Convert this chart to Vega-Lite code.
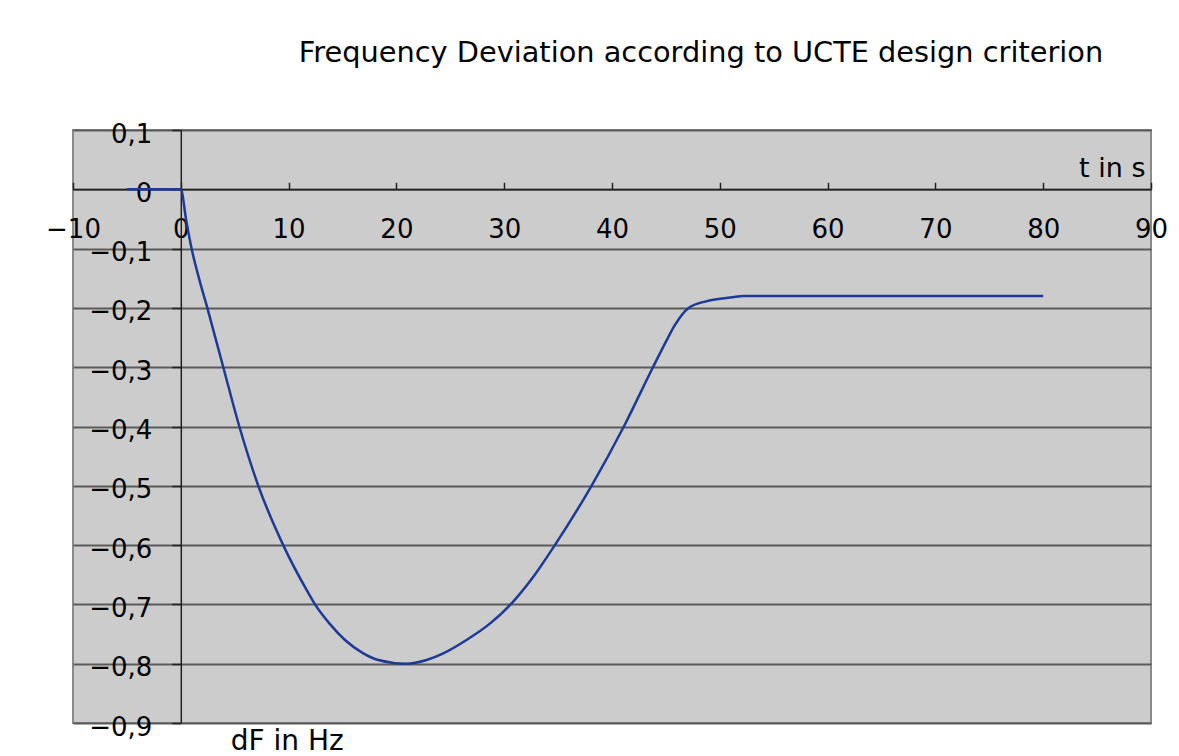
{
  "$schema": "https://vega.github.io/schema/vega-lite/v6.json",
  "width": 1078,
  "height": 593,
  "autosize": {"type": "none"},
  "padding": {"left": 73, "top": 130, "right": 28, "bottom": 33},
  "background": "white",
  "title": {
    "text": "Frequency Deviation according to UCTE design criterion",
    "font": "DejaVu Sans",
    "fontSize": 28.8,
    "fontWeight": "normal",
    "color": "black",
    "anchor": "middle",
    "frame": "group",
    "dx": 89,
    "baseline": "alphabetic",
    "offset": 30
  },
  "config": {
    "view": {"fill": "#cccccc", "stroke": "#8a8a8a", "strokeWidth": 2},
    "axis": {
      "labelFont": "DejaVu Sans",
      "labelFontSize": 26,
      "labelColor": "black",
      "titleFont": "DejaVu Sans",
      "titleFontSize": 27,
      "titleFontWeight": "normal",
      "titleColor": "black",
      "domainColor": "#222222",
      "domainWidth": 1.5,
      "tickColor": "#222222",
      "tickWidth": 1.5
    }
  },
  "data": {
    "values": [
      {"t": -5, "dF": 0},
      {"t": 0, "dF": 0},
      {"t": 0.5, "dF": -0.052},
      {"t": 1.0, "dF": -0.1},
      {"t": 1.7, "dF": -0.151},
      {"t": 2.46, "dF": -0.2},
      {"t": 3.94, "dF": -0.3},
      {"t": 5.43, "dF": -0.4},
      {"t": 7.19, "dF": -0.5},
      {"t": 9.5, "dF": -0.6},
      {"t": 11.68, "dF": -0.676},
      {"t": 12.45, "dF": -0.7},
      {"t": 13.78, "dF": -0.732},
      {"t": 15.23, "dF": -0.76},
      {"t": 16.93, "dF": -0.7825},
      {"t": 18.32, "dF": -0.7937},
      {"t": 20.9, "dF": -0.8},
      {"t": 22.8, "dF": -0.7937},
      {"t": 24.35, "dF": -0.7825},
      {"t": 26.5, "dF": -0.76},
      {"t": 28.7, "dF": -0.732},
      {"t": 30.6, "dF": -0.7},
      {"t": 32.6, "dF": -0.656},
      {"t": 34.7, "dF": -0.6},
      {"t": 38.1, "dF": -0.5},
      {"t": 41.1, "dF": -0.4},
      {"t": 43.8, "dF": -0.3},
      {"t": 45.2, "dF": -0.25},
      {"t": 45.8, "dF": -0.23},
      {"t": 47.1, "dF": -0.2},
      {"t": 48.8, "dF": -0.1885},
      {"t": 51.2, "dF": -0.182},
      {"t": 52.2, "dF": -0.18},
      {"t": 80, "dF": -0.18}
    ]
  },
  "mark": {"type": "line", "color": "#1c3a96", "strokeWidth": 2.5, "interpolate": "monotone", "clip": false},
  "encoding": {
    "x": {
      "field": "t",
      "type": "quantitative",
      "scale": {"domain": [-10, 90], "nice": false, "zero": false},
      "axis": {
        "orient": "bottom",
        "offset": {"expr": "scale('y', 0) - height"},
        "values": [-10, 0, 10, 20, 30, 40, 50, 60, 70, 80, 90],
        "grid": false,
        "tickSize": -7,
        "labelPadding": 34,
        "labelFlush": false,
        "labelOverlap": false,
        "title": "t in s",
        "titleAlign": "right",
        "titleBaseline": "alphabetic",
        "titleAnchor": "end",
        "titleX": 1072,
        "titleY": -13
      }
    },
    "y": {
      "field": "dF",
      "type": "quantitative",
      "scale": {"domain": [-0.9, 0.1], "nice": false, "zero": false},
      "axis": {
        "orient": "left",
        "offset": {"expr": "-scale('x', 0)"},
        "values": [0.1, 0, -0.1, -0.2, -0.3, -0.4, -0.5, -0.6, -0.7, -0.8, -0.9],
        "labelExpr": "replace(format(datum.value, '.1~f'), '.', ',')",
        "grid": true,
        "gridColor": "#5a5a5a",
        "gridWidth": 2,
        "gridOpacity": 1,
        "tickSize": 9,
        "labelPadding": 20,
        "labelOffset": 4,
        "labelFlush": false,
        "labelOverlap": false,
        "title": "dF in Hz",
        "titleAngle": 0,
        "titleAlign": "center",
        "titleBaseline": "alphabetic",
        "titleX": 106,
        "titleY": 619,
        "titleFontSize": 28
      }
    }
  }
}
